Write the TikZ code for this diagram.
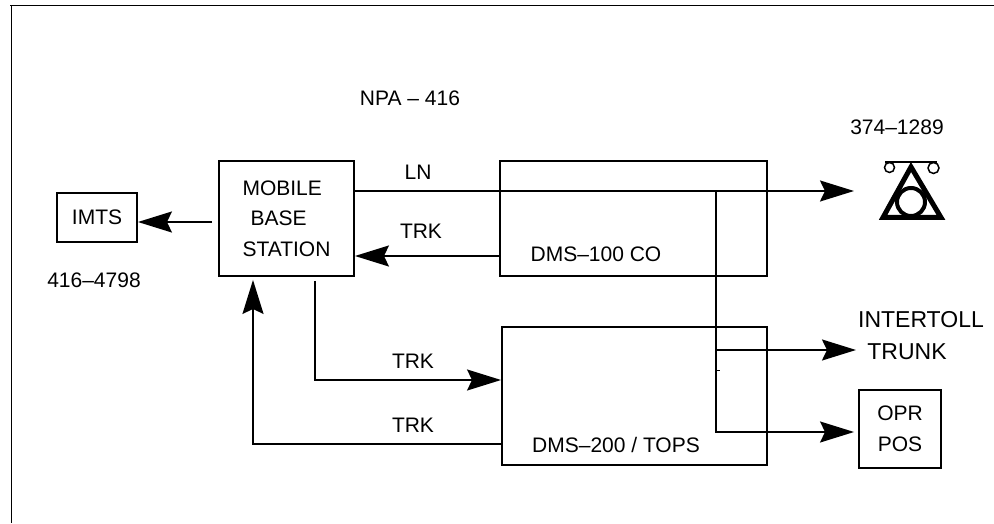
\documentclass[tikz,border=0pt]{standalone}
\usepackage{fontspec}
\setmainfont{Liberation Sans}
\usetikzlibrary{arrows.meta}

\begin{document}
\begin{tikzpicture}[x=1pt, y=1pt,
    box/.style={draw, line width=1.9pt, inner sep=0pt, font=\fontsize{21}{30.5}\selectfont},
    lbl/.style={inner sep=0pt, font=\fontsize{21}{30.5}\selectfont},
    conn/.style={line width=1.9pt, -{Stealth[length=34pt, width=21pt, inset=5pt]}}]

    \useasboundingbox (0, 0) rectangle (994, 523);
    \draw [line width=1pt] (10, 517) -- (994, 517);
    \draw [line width=1pt] (11, 517) -- (11, 0);

    % boxes
    \node [box, minimum width=80pt, minimum height=49pt] (imts) at (97, 305.5) {IMTS};
    \node [box, minimum width=135pt, minimum height=115pt, align=left] (mbs) at (286.5, 304.5)
        {MOBILE\\\hspace{8pt}BASE\\STATION};
    \node [box, minimum width=267pt, minimum height=115pt] (dmsco) at (633.5, 304.5) {};
    \node [box, minimum width=265pt, minimum height=138pt] (tops) at (634.5, 127) {};
    \node [box, minimum width=82pt, minimum height=78pt, align=center] (opr) at (900, 94) {OPR\\POS};

    \node [lbl] (colbl) at (596, 269) {DMS--100 CO};
    \node [lbl] (topslbl) at (616, 78) {DMS--200 / TOPS};
    \node [lbl] (npa) at (410, 425) {NPA -- 416};
    \node [lbl] (mobnum) at (94, 243) {416--4798};
    \node [lbl] (phonenum) at (897, 396) {374--1289};
    \node [lbl, font=\fontsize{23}{28}\selectfont] (inter) at (921, 203) {INTERTOLL};
    \node [lbl, font=\fontsize{23}{28}\selectfont] (trunk) at (907, 171) {TRUNK};
    \node [lbl] (ln) at (418, 351) {LN};
    \node [lbl] (trka) at (421, 292) {TRK};
    \node [lbl] (trkb) at (413, 162) {TRK};
    \node [lbl] (trkc) at (413, 98) {TRK};

    % connectors
    \coordinate (tap) at (716, 332);
    \coordinate (lnend) at (854, 332);
    \coordinate (trunkend) at (856, 173);

    \draw [conn] (mbs.east |- tap) -- (lnend);
    \draw [conn] (tap) |- ([xshift=-4pt, yshift=-3pt]opr.west);
    \draw [conn] (tap |- trunkend) -- (trunkend);
    \draw [line width=1pt] (tap |- 0, 153) -- ++(4, 0);

    \draw [conn] ([yshift=-37.5pt]dmsco.west) -- ([yshift=-37.5pt]mbs.east);
    \draw [conn] ([xshift=-6pt, yshift=-3.5pt]mbs.west) -- ([yshift=-4.5pt]imts.east);
    \draw [conn] ([xshift=28.5pt, yshift=-4pt]mbs.south) |- ([yshift=16pt]tops.west);
    \draw [conn] ([yshift=-48pt]tops.west) -| ([xshift=-33.5pt, yshift=-3pt]mbs.south);

    % telephone
    \draw [line width=5pt, miter limit=10] (883, 305.5) -- (911, 356) -- (941, 305.5) -- cycle;
    \draw [line width=4pt] (911, 321) circle (14);
    \draw [line width=1.5pt] (885, 361) -- (937, 361);
    \draw [line width=1.5pt] (889.5, 355.5) circle (5);
    \draw [line width=1.5pt] (933.5, 355) circle (5.5);

\end{tikzpicture}
\end{document}
